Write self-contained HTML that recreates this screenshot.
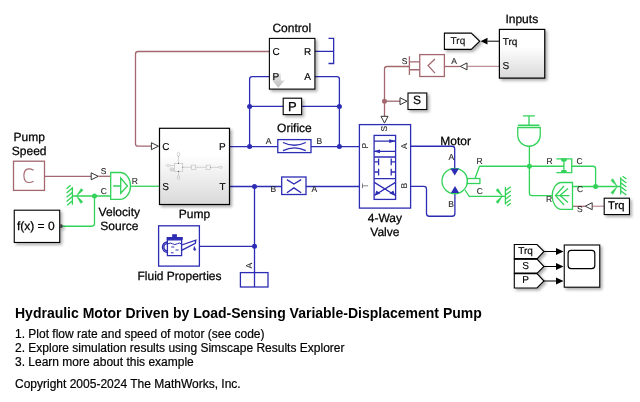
<!DOCTYPE html>
<html><head><meta charset="utf-8">
<style>
html,body{margin:0;padding:0;background:#fff;width:640px;height:402px;overflow:hidden}
svg{position:absolute;left:0;top:0;will-change:transform}
div{will-change:transform}
text{font-family:"Liberation Sans",sans-serif;text-rendering:geometricPrecision}
.bl{fill:none;stroke:#2c2cb4;stroke-width:1.3}
.gr{fill:none;stroke:#33d25a;stroke-width:1.3}
.br{fill:none;stroke:#a4676f;stroke-width:1.3}
.blk{fill:#fff;stroke:#000;stroke-width:1.1}
.lbl{font-size:12px;fill:#000;stroke:#000;stroke-width:0.25px}
.pl{font-size:10px;fill:#000;stroke:#000;stroke-width:0.15px}
.sl{font-size:8.5px;fill:#222;stroke:#222;stroke-width:0.1px}
.tri{fill:#fff;stroke:#333;stroke-width:1}
</style></head><body>
<svg width="640" height="402" viewBox="0 0 640 402">
<defs>
<linearGradient id="gfill" x1="0" y1="0" x2="0" y2="1">
<stop offset="0" stop-color="#fff"/><stop offset="0.35" stop-color="#fff"/><stop offset="1" stop-color="#d9d9d9"/>
</linearGradient>
<filter id="sh" x="-20%" y="-20%" width="150%" height="150%">
<feGaussianBlur in="SourceAlpha" stdDeviation="1.4"/><feOffset dx="2" dy="2"/>
<feComponentTransfer><feFuncA type="linear" slope="0.32"/></feComponentTransfer>
<feMerge><feMergeNode/><feMergeNode in="SourceGraphic"/></feMerge>
</filter>
</defs>

<!-- ===== brown signal lines ===== -->
<path class="br" d="M269 51.5 H138 Q135.5 51.5 135.5 54 V143.7 Q135.5 146.2 138 146.2 H151.4"/>
<polygon class="tri" points="151.4,142.7 158.4,146.2 151.4,149.7"/>
<rect class="br" x="13.5" y="161.2" width="31" height="29.2"/>
<path d="M33.6 170.2 Q31 168.8 28.6 168.9 Q24 169.3 23.9 175.7 Q24 182.3 28.6 182.5 Q31 182.6 33.6 181.2" fill="none" stroke="#a4676f" stroke-width="1.1"/>
<path class="br" d="M44.5 176.3 H91.2"/>
<polygon class="tri" points="91.2,172.8 98.2,176.3 91.2,179.8"/>
<path class="br" d="M98.2 176.3 H110.7"/>

<path class="br" d="M409.4 66.5 H387 Q384.5 66.5 384.5 69 V116.3"/>
<circle cx="384.5" cy="101.2" r="2.5" fill="#a4676f"/>
<path class="br" d="M384.5 101.2 H400"/>
<polygon class="tri" points="400,97.7 407,101.2 400,104.7"/>
<polygon class="tri" points="381,116.3 388,116.3 384.5,123.1"/>
<path class="br" d="M444.4 66.5 H460.3"/>
<polygon class="tri" points="467,62.9 460.3,66.4 467,69.9"/>
<path d="M467 66.3 H499.4" stroke="#a4676f" stroke-width="0.9" fill="none"/>
<path class="br" d="M572.5 206.3 H585"/>
<polygon class="tri" points="592.2,202.7 585.2,206.2 592.2,209.7"/>
<path d="M592.2 206.2 H604.2" stroke="#a4676f" stroke-width="0.9" fill="none"/>

<!-- PS-S converter -->
<rect class="br" x="419.75" y="54.6" width="24.65" height="21.9"/>
<path class="br" d="M435 59 L428.1 65.6 L435 73.1"/>
<path class="br" d="M409.4 56.3 V75 M409.4 61.9 H419.75 M409.4 69.75 H419.75"/>
<text class="sl" x="401.8" y="63.8">S</text>
<text class="sl" x="451.2" y="63.8">A</text>

<!-- ===== blue hydraulic ===== -->
<path class="bl" d="M269 76.6 H252.2 Q249.6 76.6 249.6 79.2 V146.6"/>
<path class="bl" d="M314.9 76.6 H336.8 Q339.4 76.6 339.4 79.2 V146.6"/>
<path class="bl" d="M249.6 106.4 H283.2 M301.6 106.4 H339.4"/>
<path class="bl" d="M314.9 51.3 H333.65 M328.5 38.4 H333.65 V63.5 H328.5"/>
<path class="bl" d="M229.5 146.6 H277.8 M311 146.6 H359.4"/>
<path class="bl" d="M229.5 186.5 H281.7 M306 186.5 H359.4"/>
<path class="bl" d="M254.5 186.5 V287"/>
<path class="bl" d="M199.4 246.3 H254.5"/>
<rect class="bl" x="240.4" y="272.6" width="27.6" height="14.4"/>
<circle cx="249.6" cy="106.4" r="2.5" fill="#2c2cb4"/>
<circle cx="339.4" cy="106.4" r="2.5" fill="#2c2cb4"/>
<circle cx="249.6" cy="146.6" r="2.5" fill="#2c2cb4"/>
<circle cx="339.4" cy="146.6" r="2.5" fill="#2c2cb4"/>
<circle cx="254.5" cy="186.5" r="2.5" fill="#2c2cb4"/>
<circle cx="254.5" cy="246.3" r="2.5" fill="#2c2cb4"/>
<text class="sl" transform="translate(252 268.4) rotate(-90)">A</text>

<!-- orifice 1 -->
<rect class="bl" x="277.8" y="139.6" width="33.2" height="13"/>
<path class="bl" d="M283 142.5 Q294.4 148 305.8 142.5 M283 150.7 Q294.4 145.2 305.8 150.7"/>
<text class="sl" x="265.8" y="144">A</text>
<text class="sl" x="316.5" y="144">B</text>
<text class="lbl" x="294.4" y="132" text-anchor="middle">Orifice</text>
<!-- orifice 2 -->
<rect class="bl" x="281.7" y="177" width="24.3" height="17.5"/>
<path class="bl" d="M286.9 179.6 L293.9 184 L301.2 179.6 M286.9 192.7 L293.9 187.9 L301.2 192.7"/>
<text class="sl" x="270.5" y="192">B</text>
<text class="sl" x="311.5" y="192">A</text>

<!-- valve -->
<rect class="bl" x="359.4" y="124.6" width="51.2" height="83.5"/>
<path class="bl" d="M410.6 146.25 H452 Q454.7 146.25 454.7 149 V169"/>
<path class="bl" d="M410.6 186.3 H423.8 Q426.5 186.3 426.5 189 V213.5 Q426.5 216.25 429.2 216.25 H452.2 Q454.9 216.25 454.9 213.5 V192"/>
<g class="bl">
<rect x="374.1" y="135.4" width="21.5" height="64"/>
<path d="M374.1 141.1 H395.6 M374.1 151.3 H395.6 M374.1 157 H395.6 M374.1 178.6 H395.6"/>
<path d="M378.6 158.5 V165.2 M374.5 161.9 H378.6 M391.2 158.5 V165.2 M391.2 161.9 H395.3 M378.6 168.7 V175.4 M374.5 172 H378.6 M391.2 168.7 V175.4 M391.2 172 H395.3"/>
<path d="M374.3 182.4 L395.5 195.5 M395.5 182.4 L374.3 195.5"/>
</g>
<polygon points="395.8,141.1 389.2,139.2 389.2,143" fill="#2c2cb4"/>
<polygon points="373.3,151.3 380,149.4 380,153.2" fill="#2c2cb4"/>
<polygon points="374.6,195.6 376.5,190.6 380.4,193.6" fill="#2c2cb4"/>
<polygon points="395.2,195.6 393.3,190.6 389.4,193.6" fill="#2c2cb4"/>
<text class="sl" transform="translate(367.8 188.6) rotate(-90)" style="fill:#666">T</text>
<text class="sl" transform="translate(387 131.5) rotate(-90)">S</text>
<text class="sl" transform="translate(367.6 148.6) rotate(-90)">P</text>
<text class="sl" transform="translate(406.6 148.9) rotate(-90)">A</text>
<text class="sl" transform="translate(406.6 188.5) rotate(-90)">B</text>
<text class="lbl" x="384.9" y="221.5" text-anchor="middle">4-Way</text>
<text class="lbl" x="384.9" y="235.8" text-anchor="middle">Valve</text>

<!-- motor -->
<circle class="gr" cx="454.7" cy="181" r="12.7"/>
<polygon points="450.5,168.5 459,168.5 454.7,175.6" fill="#2c2cb4"/>
<polygon points="450.9,193.1 459.2,193.1 455,186" fill="#2c2cb4"/>
<rect class="gr" x="467.4" y="178.5" width="12.5" height="5"/>
<path class="gr" d="M475 178.5 L479.5 166.25 H563.9"/>
<path class="gr" d="M465 190 L469.25 196.3 H505.4"/>
<text class="lbl" x="455.6" y="144.8" text-anchor="middle">Motor</text>
<text class="sl" x="448.6" y="160">A</text>
<text class="sl" x="448.3" y="206.5">B</text>
<text class="sl" x="476.5" y="164">R</text>
<text class="sl" x="476.7" y="193.8">C</text>

<!-- ===== green mechanical ===== -->
<!-- velocity source -->
<path class="gr" d="M110.7 172.5 H120 A10.5 13.4 0 0 1 120 199.3 H110.7 Z"/>
<path class="gr" d="M113.2 186 H120.7 M120.7 178 L127.5 186 L120.7 193.3 Z"/>
<path class="gr" d="M130.5 186.25 H159.5"/>
<path class="gr" d="M72 196 H110.7"/>
<path class="gr" d="M94.5 196 V223.6 Q94.5 226.25 91.9 226.25 H59.7"/>
<circle cx="94.5" cy="196" r="2.5" fill="#33d25a"/>
<text class="sl" x="100.8" y="174.3">S</text>
<text class="sl" x="100.8" y="193.8">C</text>
<text class="sl" x="131.7" y="184">R</text>
<text class="lbl" x="119.3" y="216" text-anchor="middle">Velocity</text>
<text class="lbl" x="119.3" y="229.7" text-anchor="middle">Source</text>
<!-- ground left -->
<path class="gr" d="M72.4 187 V204.7 M70.6 185.2 L66.6 188.8 M72.4 188 L66.6 193 M72.4 192.3 L66.6 197.2 M72.4 196.6 L66.6 201.4 M72.4 200.8 L67.2 205.2"/>
<path d="M83.1 190.2 L81.1 188.6 L76.5 196 L79.6 193.4 Z M82.8 201.8 L80.8 203.4 L76.5 196 L79.6 198.6 Z" fill="#33d25a" stroke="#33d25a" stroke-width="0.5" stroke-linejoin="round"/>
<!-- inertia -->
<path class="gr" d="M523 115.9 H534.9 M529 115.9 V125.25 M518 125.25 H539.5 M517.75 127.5 V135 A11.25 11.25 0 0 0 540.25 135 V127.5 Z"/>
<path class="gr" d="M529.4 146.25 V193 Q529.4 195.6 532 195.6 H552.25"/>
<circle cx="529.4" cy="166.25" r="2.5" fill="#33d25a"/>
<!-- damper -->
<path class="gr" d="M556.4 158.9 H571.75 V172.6 H556.4 M563.9 158.9 V172.6"/>
<polygon points="560.6,158.5 567.2,158.5 566.2,161.6 561.6,161.6" fill="#33d25a"/>
<polygon points="560.6,173 567.2,173 566.2,169.9 561.6,169.9" fill="#33d25a"/>
<path class="gr" d="M571.75 166.25 H593 Q595.6 166.25 595.6 168.9 V186.5"/>
<text class="sl" x="546.5" y="164">R</text>
<text class="sl" x="576.4" y="163.8">C</text>
<!-- torque source -->
<path class="gr" d="M572.5 182.5 H561.5 A9.3 13.45 0 0 0 561.5 209.4 H572.5 Z"/>
<path class="gr" d="M556.25 195.6 H569.4 M564 186 L555.5 195.6 L564 205 M568 188.5 L560 195.6 L568 202.5"/>
<path class="gr" d="M572.5 186.5 H620.6"/>
<circle cx="595.6" cy="186.5" r="2.5" fill="#33d25a"/>
<text class="sl" x="546" y="201.9">R</text>
<text class="sl" x="576.9" y="191.9">C</text>
<text class="sl" x="576.9" y="211.9">S</text>
<path class="gr" d="M620.7 177.2 V194.6 M622.6 176.3 L626.4 179 M620.7 178.8 L626.4 183 M620.7 182.8 L626.4 187 M620.7 186.8 L626.4 191 M620.7 190.8 L626.4 195"/>
<path d="M610.9 180.4 L612.9 178.7 L617.3 186.5 L614.3 183.8 Z M610.9 192.6 L612.9 194.3 L617.3 186.5 L614.3 189.2 Z" fill="#33d25a" stroke="#33d25a" stroke-width="0.5" stroke-linejoin="round"/>
<!-- ground motor C -->
<path class="gr" d="M505.4 187.1 V204.6 M505.4 190.8 L510.8 186.8 M505.4 195 L510.8 191 M505.4 199.2 L510.8 195.2 M505.4 203.4 L510.8 199.4 M507 206 L510.8 203.2"/>
<path d="M496 190.3 L498 188.6 L502.4 196 L499.4 193.4 Z M496 201.7 L498 203.4 L502.4 196 L499.4 198.6 Z" fill="#33d25a" stroke="#33d25a" stroke-width="0.5" stroke-linejoin="round"/>

<!-- ===== black blocks ===== -->
<g filter="url(#sh)">
<rect class="blk" x="269.4" y="38.4" width="45.5" height="50.7"/>
<rect fill="url(#gfill)" stroke="#000" stroke-width="1.2" x="159.5" y="128.3" width="70" height="76.2"/>
<rect class="blk" x="283.2" y="98.2" width="18.4" height="16.4"/>
<rect class="blk" x="14.25" y="210.2" width="45.45" height="32.25"/>
<path d="M59.8 224.2 H61.5 Q62.7 224.2 62.7 226.1 Q62.7 228 61.5 228 H59.8 Z" fill="#444"/>
<rect class="blk" x="408" y="93" width="18.8" height="16.5"/>
<path class="blk" d="M444.4 33.1 H471.25 L479.75 41.25 L471.25 49.4 H444.4 Z"/>
<rect fill="url(#gfill)" stroke="#000" stroke-width="1.2" x="499.4" y="29.4" width="45.35" height="48.7"/>
<rect class="blk" x="604.2" y="198.2" width="25.25" height="16.35"/>
<path class="blk" d="M514.3 244.5 H537 L544 251.5 L537 259 H514.3 Z"/>
<path class="blk" d="M514.3 259 H537 L544 266.5 L537 273.5 H514.3 Z"/>
<path class="blk" d="M514.3 273.5 H537 L544 281 L537 288 H514.3 Z"/>
<rect class="blk" x="564.25" y="245" width="35.5" height="42.2"/>
</g>
<rect x="568.1" y="250.4" width="26.7" height="18.2" rx="3" fill="none" stroke="#000" stroke-width="1.2"/>
<path d="M544 251.5 H557 M544 266.5 H557 M544 281 H557" stroke="#000" stroke-width="1"/>
<path d="M514.3 258.9 H537 M514.3 273.4 H537" stroke="#000" stroke-width="1.9"/>
<polygon points="556,248 563.5,251.5 556,255" fill="#000"/>
<polygon points="556,263 563.5,266.5 556,270" fill="#000"/>
<polygon points="556,277.5 563.5,281 556,284.5" fill="#000"/>
<path d="M487.5 41.2 H499.4" stroke="#000" stroke-width="1"/>
<polygon points="480.6,41.2 487.5,37.8 487.5,44.5" fill="#000"/>

<!-- control icon -->
<defs><linearGradient id="ag" x1="0" y1="0" x2="0" y2="1"><stop offset="0" stop-color="#e8e8e8"/><stop offset="1" stop-color="#bdbdbd"/></linearGradient></defs>
<path d="M272.6 73.4 H280.9 V80.5 H284.5 L278.4 87.7 L272.3 80.5 H272.6 Z" fill="url(#ag)"/>

<!-- pump icon -->
<g stroke="#b0b0b0" stroke-width="0.5" fill="none">
<rect x="174.3" y="163.2" width="8.5" height="8.3"/>
<path d="M178.5 163.2 V156.3 M178.5 171.5 V175.3 M182.8 167.3 H191.2 M195.8 167.3 H206.1 M210.7 167.3 H219 M169.8 165.5 H174.3"/>
<rect x="191.2" y="165.1" width="4.6" height="4.4"/>
<rect x="206.1" y="165.1" width="4.6" height="4.4"/>
<ellipse cx="178.5" cy="154.2" rx="1.2" ry="2.1"/>
<ellipse cx="178.5" cy="177.4" rx="1.2" ry="2.1"/>
<ellipse cx="168" cy="165.5" rx="1.9" ry="1"/>
<ellipse cx="220.6" cy="167.3" rx="1.9" ry="1"/>
<path d="M170.2 168 H173.5 V171 H170.2 Z M171 168.7 L172.8 169.5 L171 170.3"/>
</g>
<g fill="#555"><circle cx="178.5" cy="163.3" r="0.6"/><circle cx="178.5" cy="171.4" r="0.6"/><circle cx="182.8" cy="167.3" r="0.45"/><circle cx="178.5" cy="156.3" r="0.4"/><circle cx="210.7" cy="167.3" r="0.4"/></g>

<!-- fluid properties icon -->
<rect fill="#fff" stroke="#2c2cb4" stroke-width="1.3" x="158.6" y="225.8" width="40.8" height="40.3"/>
<g fill="none" stroke="#2c2cb4" stroke-width="1.3">
<path d="M167.4 239.8 H181.6 V255.6 H167.4 Z"/>
<path d="M167.2 242 A4.8 5.2 0 0 0 167.2 252.4 M167.2 243.6 A3.3 3.6 0 0 0 167.2 250.8"/>
<path d="M181.6 245 L195.8 240.2 L195.3 243.3 L181.6 250.3"/>
</g>
<rect x="166.6" y="237" width="16.2" height="2.9" fill="#2c2cb4"/>
<rect x="172.2" y="234.2" width="4.7" height="2.9" fill="#2c2cb4"/>
<path d="M168 243.8 Q170.3 242.3 172.6 243.8 Q174.9 245.3 177.2 243.8 Q179.5 242.3 181.2 243.8" stroke="#2c2cb4" stroke-width="1" fill="none"/>
<path d="M171.3 247 H174.3 M175.5 250 H178.5 M171 252.8 H173.5" stroke="#2c2cb4" stroke-width="1"/>
<path d="M194.3 246.5 L193.6 249.5 A1.2 1.2 0 0 0 195.8 249.8 Z" fill="#2c2cb4" stroke="#2c2cb4" stroke-width="0.6"/>

<!-- block labels -->
<text class="lbl" x="291.8" y="31.5" text-anchor="middle">Control</text>
<text class="pl" x="272.5" y="55">C</text>
<text class="pl" x="304" y="55">R</text>
<text class="pl" x="272.5" y="80">P</text>
<text class="pl" x="304.2" y="80">A</text>
<text class="lbl" x="292.3" y="110.6" text-anchor="middle" style="font-size:13px">P</text>
<text class="pl" x="162.3" y="149.8">C</text>
<text class="pl" x="162.3" y="189.8">S</text>
<text class="pl" x="219" y="149.8">P</text>
<text class="pl" x="219.5" y="189.8">T</text>
<text class="lbl" x="194.5" y="217.8" text-anchor="middle">Pump</text>
<text class="lbl" x="29.2" y="140.8" text-anchor="middle">Pump</text>
<text class="lbl" x="29.2" y="154.7" text-anchor="middle">Speed</text>
<text class="lbl" x="35.8" y="230" text-anchor="middle">f(x) = 0</text>
<text class="lbl" x="179.5" y="279.6" text-anchor="middle">Fluid Properties</text>
<text class="lbl" x="416.9" y="104.2" text-anchor="middle" style="font-size:12px">S</text>
<text class="pl" x="450.6" y="43.8" font-size="10.5" style="fill:#222">Trq</text>
<text class="lbl" x="521.8" y="22.8" text-anchor="middle">Inputs</text>
<text class="pl" x="502.7" y="45">Trq</text>
<text class="pl" x="502.5" y="69.4">S</text>
<text class="lbl" x="616.2" y="209.4" text-anchor="middle" style="font-size:11.2px">Trq</text>
<text class="pl" x="525.6" y="253.5" text-anchor="middle">Trq</text>
<text class="pl" x="525.6" y="268.5" text-anchor="middle">S</text>
<text class="pl" x="525.6" y="283" text-anchor="middle">P</text>
</svg>

<div style="position:absolute;left:15.2px;top:305px;font:bold 14px 'Liberation Sans',sans-serif;color:#000;white-space:nowrap">Hydraulic Motor Driven by Load-Sensing Variable-Displacement Pump</div>
<div style="position:absolute;left:15.2px;top:328px;font:12px/13.75px 'Liberation Sans',sans-serif;color:#000;-webkit-text-stroke:0.2px #000;white-space:nowrap">1. Plot flow rate and speed of motor (see code)<br>2. Explore simulation results using Simscape Results Explorer<br>3. Learn more about this example</div>
<div style="position:absolute;left:15.2px;top:377px;font:12px 'Liberation Sans',sans-serif;color:#000;-webkit-text-stroke:0.2px #000;white-space:nowrap">Copyright 2005-2024 The MathWorks, Inc.</div>
</body></html>
